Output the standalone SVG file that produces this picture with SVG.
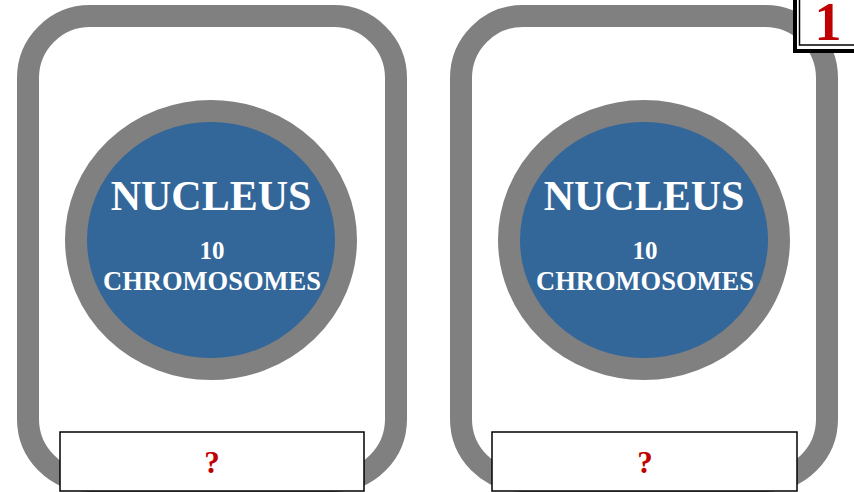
<svg xmlns="http://www.w3.org/2000/svg" width="854" height="492" viewBox="0 0 854 492">
<style>
.card{fill:none;stroke:#808080;stroke-width:22}
.nuc{fill:#336699;stroke:#808080;stroke-width:22}
.t{font-family:"Liberation Serif",serif;font-weight:bold;fill:#fff;text-anchor:middle}
.lbl{fill:#fff;stroke:#000;stroke-width:1.5}
.q{font-family:"Liberation Serif",serif;font-weight:bold;fill:#c00000;text-anchor:middle;font-size:31px}
</style>
<rect width="854" height="492" fill="#fff"/>
<g id="cell-left">
<rect class="card" x="28" y="16" width="368" height="465" rx="62"/>
<ellipse class="nuc" cx="211" cy="240" rx="135" ry="129"/>
<text class="t" x="211" y="210" font-size="42">NUCLEUS</text>
<text class="t" x="212" y="259" font-size="25">10</text>
<text class="t" x="212" y="290" font-size="26.5">CHROMOSOMES</text>
<rect class="lbl" x="60" y="432" width="304" height="59"/>
<text class="q" x="212" y="473">?</text>
</g>
<g id="cell-right">
<rect class="card" x="461" y="16" width="366" height="465" rx="62"/>
<ellipse class="nuc" cx="644" cy="240" rx="135" ry="129"/>
<text class="t" x="644" y="210" font-size="42">NUCLEUS</text>
<text class="t" x="645" y="259" font-size="25">10</text>
<text class="t" x="645" y="290" font-size="26.5">CHROMOSOMES</text>
<rect class="lbl" x="492" y="432" width="305" height="59"/>
<text class="q" x="645" y="473">?</text>
</g>
<g id="badge">
<rect x="795" y="-5" width="70" height="56" fill="#fff" stroke="#000" stroke-width="4"/>
<rect x="799.5" y="-5" width="70" height="50" fill="none" stroke="#000" stroke-width="1.5"/>
<text x="828" y="40" font-family="Liberation Serif,serif" font-weight="bold" font-size="54" fill="#c00000" text-anchor="middle">1</text>
</g>
<g id="connectors"/>
</svg>
